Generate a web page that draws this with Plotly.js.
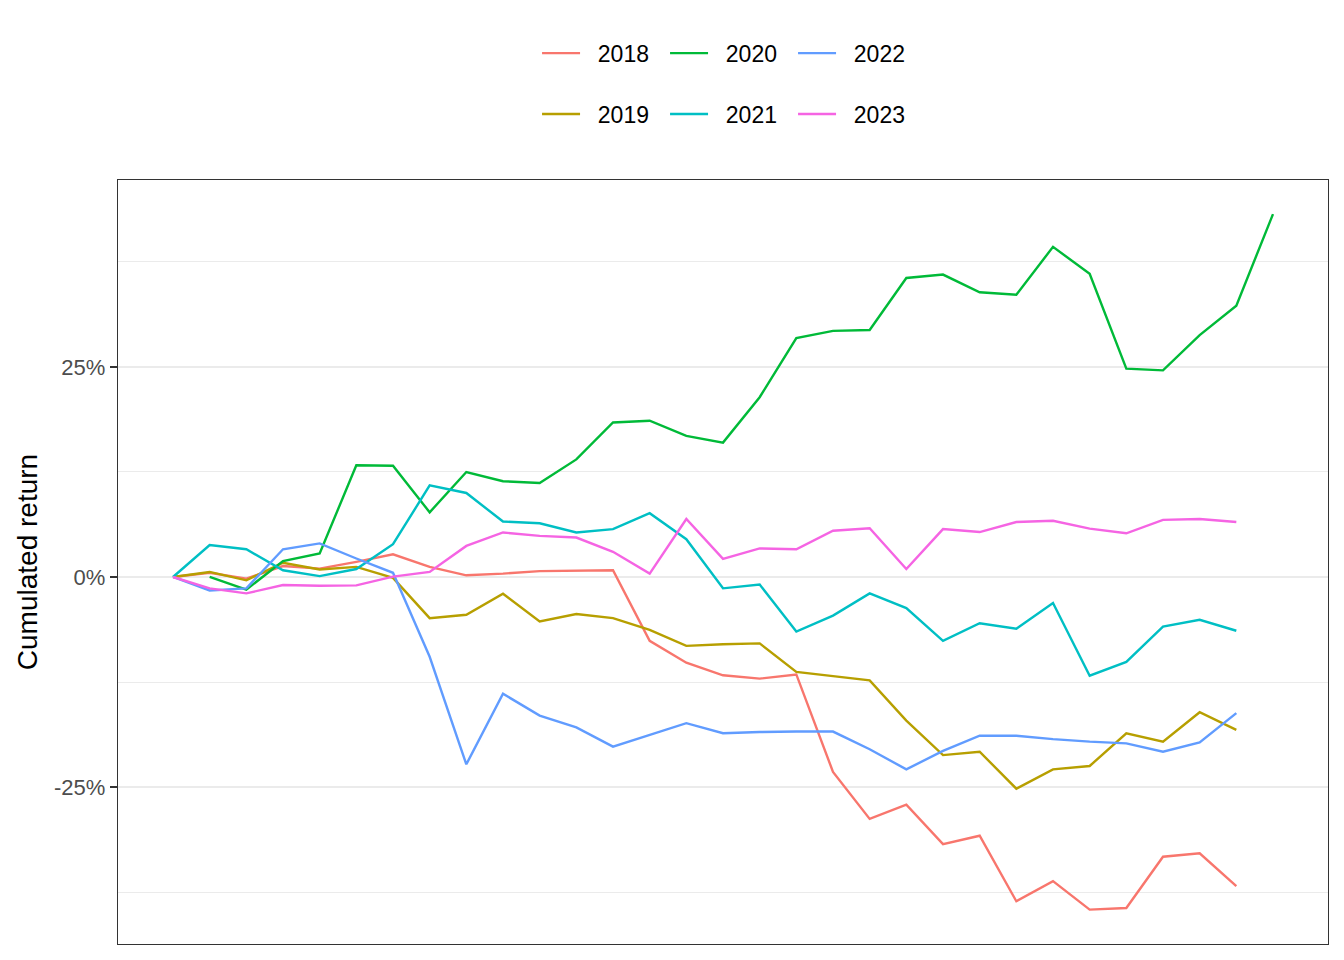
<!DOCTYPE html>
<html>
<head>
<meta charset="utf-8">
<script src="https://cdn.plot.ly/plotly-3.0.1.min.js"></script>
<style>
  html, body { margin: 0; padding: 0; background: #fff; }
  #chart { width: 1344px; height: 960px; }
</style>
</head>
<body>
<div id="chart"></div>
<script>
// period index (x) and cumulated returns in %
const periods = [0, 1, 2, 3, 4, 5, 6, 7, 8, 9, 10, 11, 12, 13, 14, 15,
  16, 17, 18, 19, 20, 21, 22, 23, 24, 25, 26, 27, 28, 29, 30];

const years = ['2018', '2019', '2020', '2021', '2022', '2023'];
const colors = ['#F8766D', '#B79F00', '#00BA38', '#00BFC4', '#619CFF', '#F564E3'];

const ret2018 = [0, 0.5, -0.2, 1.3, 1.0, 1.8, 2.7, 1.2, 0.2, 0.4, 0.7, 0.75, 0.8, -7.6, -10.2,
  -11.7, -12.1, -11.6, -23.2, -28.8, -27.1, -31.8, -30.8, -38.6, -36.2, -39.6, -39.4, -33.3, -32.9, -36.8];
const ret2019 = [0, 0.6, -0.4, 1.7, 0.9, 1.2, -0.1, -4.9, -4.5, -2.0, -5.3, -4.4, -4.9, -6.3, -8.2,
  -8.0, -7.9, -11.3, -11.8, -12.3, -17.1, -21.2, -20.8, -25.2, -22.9, -22.5, -18.6, -19.6, -16.1, -18.2];
const ret2020 = [0, -1.5, 1.9, 2.8, 13.3, 13.25, 7.7, 12.5, 11.4, 11.2, 14.0, 18.4, 18.6, 16.8,
  16.0, 21.4, 28.45, 29.3, 29.4, 35.6, 36.0, 33.9, 33.6, 39.3, 36.1, 24.8, 24.6, 28.8, 32.3, 43.2];
const ret2021 = [0, 3.8, 3.3, 0.8, 0.1, 0.95, 3.9, 10.9, 10.0, 6.6, 6.4, 5.3, 5.7, 7.6, 4.5,
  -1.35, -0.9, -6.5, -4.6, -1.95, -3.7, -7.6, -5.5, -6.15, -3.1, -11.75, -10.1, -5.9, -5.1, -6.4];
const ret2022 = [0, -1.6, -1.35, 3.3, 4.0, 2.2, 0.5, -9.5, -22.3, -13.9, -16.5, -17.9, -20.2, -18.8,
  -17.4, -18.6, -18.45, -18.4, -18.4, -20.5, -22.9, -20.7, -18.9, -18.9, -19.3, -19.6, -19.8, -20.8, -19.7, -16.2];
const ret2023 = [0, -1.35, -1.95, -0.95, -1.05, -1.0, 0.05, 0.6, 3.7, 5.3, 4.9, 4.7, 3.0, 0.4, 6.9,
  2.15, 3.4, 3.3, 5.5, 5.8, 0.95, 5.7, 5.35, 6.55, 6.7, 5.75, 5.2, 6.8, 6.9, 6.55];

const yTicks = [-25, 0, 25];
const yTickLabels = ['-25%', '0%', '25%'];
const yMinor = [-37.5, -12.5, 12.5, 37.5];

const series = [ret2018, ret2019, ret2020, ret2021, ret2022, ret2023];
// 2020 series starts one period later and runs one period longer
const xFor = [
  periods.slice(0, 30), periods.slice(0, 30), periods.slice(1, 31),
  periods.slice(0, 30), periods.slice(0, 30), periods.slice(0, 30)
];

const data = series.map((vals, i) => ({
  x: xFor[i],
  y: vals,
  // non-breaking spaces push the label away from the key line, like ggplot
  name: '\u00a0\u00a0' + years[i],
  type: 'scatter',
  mode: 'lines',
  line: {color: colors[i], width: 2.4},
  // ggplot fills legend by column: even years top row, odd years bottom row
  legend: i % 2 === 0 ? 'legend' : 'legend2',
  hoverinfo: 'name+y',
}));

const legendStyle = {
  orientation: 'h',
  xanchor: 'center',
  x: 0.505,
  yanchor: 'middle',
  font: {family: 'Liberation Sans, Arial, sans-serif', size: 23, color: '#000'},
  itemwidth: 38,
  entrywidth: 75,
  bgcolor: 'rgba(0,0,0,0)',
};

const layout = {
  width: 1344,
  height: 960,
  margin: {l: 118, r: 16, t: 180, b: 16},
  paper_bgcolor: '#fff',
  plot_bgcolor: '#fff',
  showlegend: true,
  legend: Object.assign({}, legendStyle, {y: 1.166}),
  legend2: Object.assign({}, legendStyle, {y: 1.0864}),
  xaxis: {
    range: [-1.5, 31.5],
    showgrid: false,
    zeroline: false,
    showticklabels: false,
    ticks: '',
    showline: true,
    mirror: true,
    linecolor: '#333333',
    linewidth: 1.2,
  },
  yaxis: {
    range: [-43.69, 47.26],
    tickvals: yTicks,
    ticktext: yTickLabels,
    ticks: 'outside',
    ticklen: 7,
    tickwidth: 1.5,
    tickcolor: '#333333',
    tickfont: {family: 'Liberation Sans, Arial, sans-serif', size: 22, color: '#4d4d4d'},
    showgrid: true,
    gridcolor: '#ebebeb',
    gridwidth: 2,
    zeroline: false,
    showline: true,
    mirror: true,
    linecolor: '#333333',
    linewidth: 1.2,
    minor: {tickvals: yMinor, showgrid: true, gridcolor: '#ebebeb', gridwidth: 1, ticks: ''},
    title: {
      text: 'Cumulated return',
      font: {family: 'Liberation Sans, Arial, sans-serif', size: 28, color: '#000'},
      standoff: 8,
    },
  },
};

Plotly.newPlot('chart', data, layout, {displayModeBar: false, staticPlot: true});
</script>
</body>
</html>
